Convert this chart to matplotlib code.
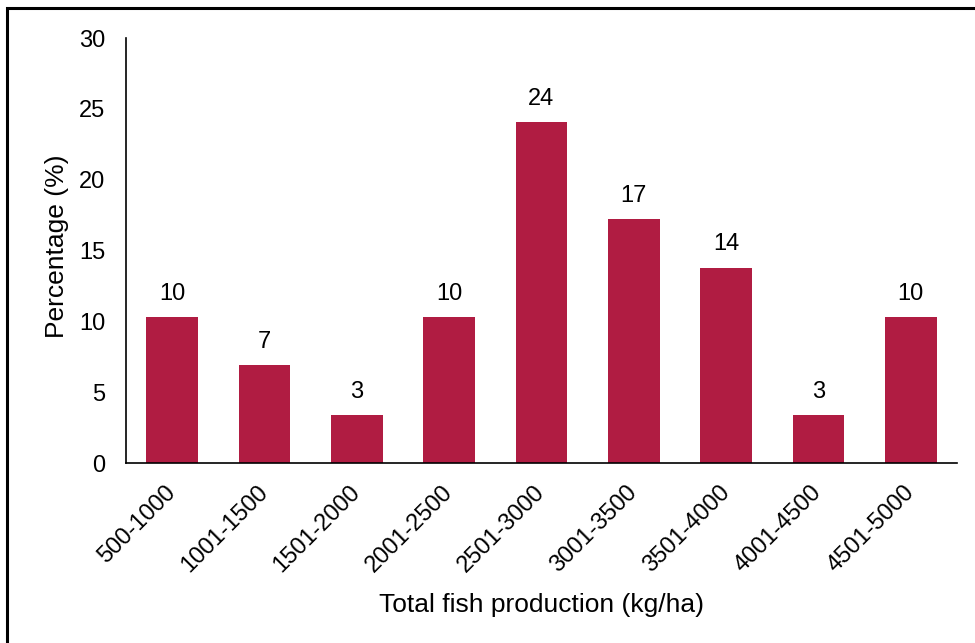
import matplotlib.pyplot as plt
from matplotlib.patches import Rectangle

plt.rcParams['font.family'] = ['Liberation Sans', 'DejaVu Sans']

ranges = ['500-1000', '1001-1500', '1501-2000', '2001-2500', '2501-3000',
          '3001-3500', '3501-4000', '4001-4500', '4501-5000']
percent = [10.3, 6.9, 3.4, 10.3, 24.1, 17.2, 13.8, 3.4, 10.3]
labels = ['10', '7', '3', '10', '24', '17', '14', '3', '10']

fig = plt.figure(figsize=(9.75, 6.43), dpi=100)
ax = fig.add_axes([0.1292, 0.2799, 0.8523, 0.661])

x = range(len(ranges))
bars = ax.bar(x, percent, width=0.56, color='#B01C42')
for b, lab in zip(bars, labels):
    ax.text(b.get_x() + b.get_width() / 2, b.get_height() + 0.85, lab,
            ha='center', va='bottom', fontsize=17)

ax.set_xlim(-0.5, len(ranges) - 0.5)
ax.set_ylim(0, 30)
ax.set_yticks([0, 5, 10, 15, 20, 25, 30])
ax.set_xticks(list(x))
ax.set_xticklabels(ranges, rotation=45, ha='right', va='center',
                   rotation_mode='anchor', fontsize=17)
ax.tick_params(axis='both', length=0, labelsize=17)
ax.tick_params(axis='y', pad=15)
ax.tick_params(axis='x', pad=19)
for s in ['top', 'right']:
    ax.spines[s].set_visible(False)
ax.spines['left'].set_linewidth(1.2)
ax.spines['bottom'].set_linewidth(1.2)

ax.set_ylabel('Percentage (%)', fontsize=19, va='center')
ax.set_xlabel('Total fish production (kg/ha)', fontsize=19, va='center')
ax.yaxis.set_label_coords(-0.0825, 0.51)
ax.xaxis.set_label_coords(0.5, -0.334)

# outer frame around the chart
fig.patches.append(Rectangle((7 / 975, -0.05), 1.2, (643 - 8) / 643 + 0.05,
                             transform=fig.transFigure, fill=False,
                             edgecolor='black', linewidth=2.2))

fig.savefig('out.png', dpi=100)
